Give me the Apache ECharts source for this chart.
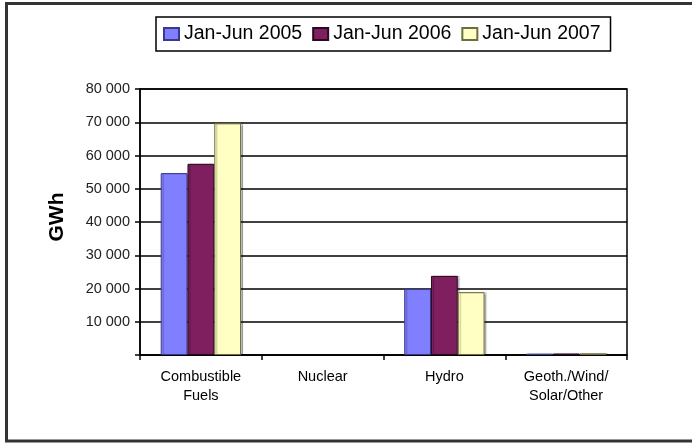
<!DOCTYPE html>
<html>
<head>
<meta charset="utf-8">
<script src="https://cdn.jsdelivr.net/npm/echarts@6/dist/echarts.min.js"></script>
<style>
  html, body { margin: 0; padding: 0; background: #fff; }
  #main { width: 692px; height: 443px; }
</style>
</head>
<body>
<div id="main"></div>
<script>
// 数据
const categories = ['Combustible\nFuels', 'Nuclear', 'Hydro', 'Geoth./Wind/\nSolar/Other'];
const seriesNames = ['Jan-Jun 2005', 'Jan-Jun 2006', 'Jan-Jun 2007'];
const values2005 = [54700, null, 19900, 400];
const values2006 = [57500, null, 23800, 450];
const values2007 = [69700, null, 18900, 500];
const yTicks = [0, 10000, 20000, 30000, 40000, 50000, 60000, 70000, 80000];

const colors = ['#7f7fff', '#7f1f5f', '#ffffc4'];
const borders = ['#3a3a8a', '#2a0a20', '#6e6e40'];

let myChart = echarts.init(document.getElementById('main'));

// 刻度格式：80 000
function fmt(v) {
  if (v === 0) return '';
  return String(v).replace(/\B(?=(\d{3})+(?!\d))/g, ' ');
}

const allData = [values2005, values2006, values2007];

let option = {
  animation: false,
  textStyle: { fontFamily: 'Liberation Sans, Arial, sans-serif', color: '#000' },
  // 外框（右边在图片外）
  graphic: [{
    type: 'polyline',
    shape: { points: [[700, 3.5], [6.5, 3.5], [6.5, 441], [700, 441]] },
    style: { fill: null, stroke: '#333', lineWidth: 3 }
  }],
  legend: {
    left: 156,
    top: 17,
    itemWidth: 15,
    itemHeight: 12,
    itemGap: 10,
    padding: [7, 10, 7, 7],
    borderColor: '#000',
    borderWidth: 1.5,
    icon: 'rect',
    textStyle: { fontSize: 19.5, color: '#000' },
    data: seriesNames
  },
  grid: {
    left: 140, right: 65, top: 89, bottom: 88,
    show: true, borderColor: '#000', borderWidth: 1.5
  },
  xAxis: {
    type: 'category',
    data: categories,
    axisLine: { lineStyle: { color: '#000', width: 1.5 } },
    axisTick: { show: true, length: 5, lineStyle: { color: '#000', width: 1.5 } },
    axisLabel: { fontSize: 14.5, color: '#000', margin: 12, lineHeight: 19 }
  },
  yAxis: {
    type: 'value',
    min: 0, max: 80000, interval: 10000,
    name: 'GWh',
    nameLocation: 'middle',
    nameGap: 72,
    nameTextStyle: { fontSize: 21, fontWeight: 'bold', color: '#000', padding: [0, 0, 0, 10] },
    axisLine: { show: true, lineStyle: { color: '#000', width: 1.5 } },
    axisTick: { show: true, length: 5, lineStyle: { color: '#000', width: 1.5 } },
    splitLine: { lineStyle: { color: '#000', width: 1.5 } },
    axisLabel: { fontSize: 14.5, color: '#222', margin: 10, formatter: fmt }
  },
  series: allData.map((d, i) => ({
    name: seriesNames[i],
    type: 'bar',
    data: d,
    barGap: '0%',
    barCategoryGap: '34%',
    itemStyle: {
      color: colors[i],
      borderColor: borders[i],
      borderWidth: 1,
      shadowColor: 'rgba(0,0,0,0.25)',
      shadowOffsetX: 2,
      shadowOffsetY: 0,
      shadowBlur: 1
    }
  }))
};

myChart.setOption(option);
</script>
</body>
</html>
